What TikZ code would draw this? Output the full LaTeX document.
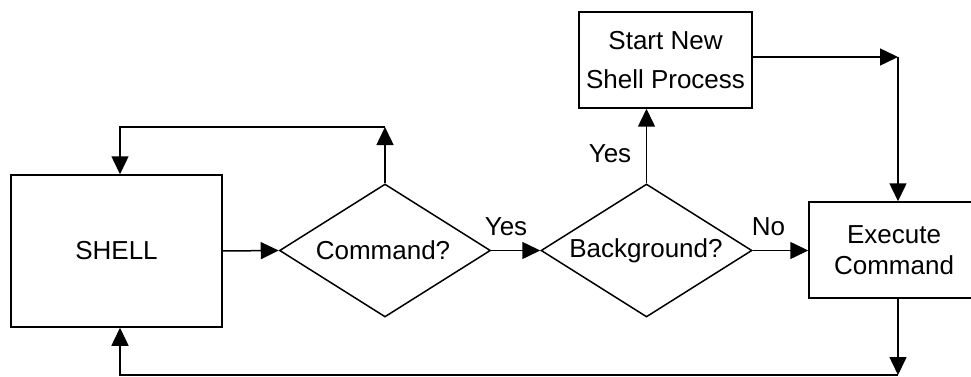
\documentclass[tikz,border=0pt]{standalone}
\usepackage{fontspec}
\setmainfont{Liberation Sans}
\usetikzlibrary{arrows.meta,shapes.geometric}
\begin{document}
\begin{tikzpicture}[x=1pt,y=-1pt,
  line width=1.5pt,
  every node/.style={font=\fontsize{26}{31}\selectfont},
  boxnode/.style={draw,rectangle,inner sep=0pt,align=center},
  decision/.style={draw,diamond,inner sep=0pt,minimum width=211pt,minimum height=133pt},
  arr/.style={-{Triangle[length=18pt,width=17pt]}},
  lbl/.style={inner sep=0pt}]
\useasboundingbox (0,0) rectangle (971,377);
\node[boxnode,minimum width=211pt,minimum height=152pt] (shell) at (116.5,251) {SHELL};
\node[decision] (cmd) at (385,250.5) {};
\node[lbl] (cmdtxt) at (383,250.5) {Command?};
\node[decision] (bg) at (646.5,250.5) {};
\node[lbl] (bgtxt) at (646,250.5) {Background?};
\node[boxnode,minimum width=173pt,minimum height=96pt,font=\fontsize{26}{39}\selectfont] (start) at (665.5,60) {Start New\\Shell Process};
\node[boxnode,minimum width=170pt,minimum height=96pt] (exec) at (894,250) {Execute\\Command};
\coordinate (cR) at (898,57);
\coordinate (cB) at (898,375);
\coordinate (cT) at (385,127);
\coordinate (cL) at (120,127);
\coordinate (cLB) at (120,375);
\draw[arr] (shell.east) -- (cmd.west);
\draw[arr] (cmd.east) -- (bg.west);
\draw[arr] (bg.east) -- (exec.west |- bg.east);
\draw[arr] (bg.north) -- (start.south -| bg.north);
\draw[arr] (start.east |- cR) -- (cR);
\draw[arr] (cR) -- (cR |- exec.north);
\draw[arr] (cmd.north) -- (cT);
\draw[arr] (cT) -- (cL) -- (cL |- shell.north);
\draw[arr] (cR |- exec.south) -- (cB);
\draw[arr] (cB) -- (cLB) -- (cLB |- shell.south);
\node[lbl] (yes1) at (506,226.5) {Yes};
\node[lbl] (no1) at (768.5,226.5) {No};
\node[lbl] (yes2) at (610,154) {Yes};
\end{tikzpicture}
\end{document}
